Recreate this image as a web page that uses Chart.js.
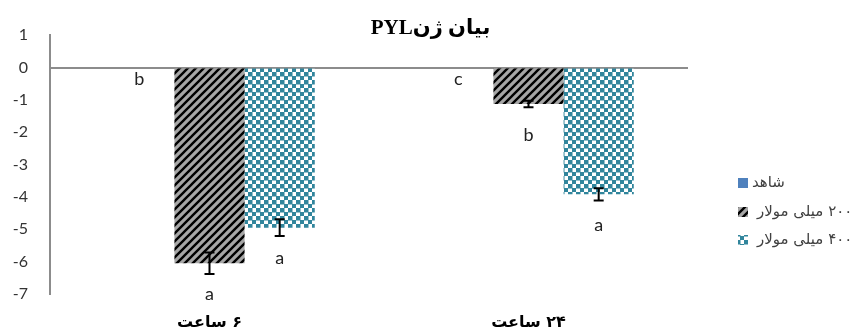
<!DOCTYPE html>
<html>
<head>
<meta charset="utf-8">
<script src="https://cdn.jsdelivr.net/npm/chart.js@4"></script>
<style>
  body { margin: 0; background: #fff; }
  #wrap { width: 861px; height: 336px; }
</style>
</head>
<body>
<div id="wrap"><canvas id="c" width="861" height="336"></canvas></div>
<script>
// data
const categories = ['\u202B۶ ساعت\u202C', '\u202B۲۴ ساعت\u202C'];
const seriesNames = ['شاهد', '۲۰۰ میلی مولار', '۴۰۰ میلی مولار'];
const control = [0, 0];
const mm200 = [-6.05, -1.13];
const mm400 = [-4.95, -3.92];
const errControl = [0, 0];
const err200 = [0.33, 0.1];
const err400 = [0.26, 0.19];
const lettersControl = ['b', 'c'];
const letters200 = ['a', 'b'];
const letters400 = ['a', 'a'];

function makePattern(draw) {
  const t = document.createElement('canvas');
  t.width = 8; t.height = 8;
  draw(t.getContext('2d'));
  return document.getElementById('c').getContext('2d').createPattern(t, 'repeat');
}

const hatch = makePattern(g => {
  g.fillStyle = '#a6a6a6';
  g.fillRect(0, 0, 8, 8);
  g.strokeStyle = '#000';
  g.lineWidth = 2.4;
  g.beginPath();
  g.moveTo(-1, 9); g.lineTo(9, -1);
  g.moveTo(-5, 5); g.lineTo(5, -5);
  g.moveTo(3, 13); g.lineTo(13, 3);
  g.stroke();
});

const checker = makePattern(g => {
  g.fillStyle = '#fff';
  g.fillRect(0, 0, 8, 8);
  g.fillStyle = '#31859c';
  g.fillRect(0, 0, 4.5, 4.5);
  g.fillRect(4, 4, 4.5, 4.5);
});

// error bars + significance letters
const annotate = {
  id: 'annotate',
  afterDatasetsDraw(chart) {
    const ctx = chart.ctx;
    const y = chart.scales.y;
    ctx.save();
    chart.data.datasets.forEach((ds, i) => {
      const meta = chart.getDatasetMeta(i);
      meta.data.forEach((bar, j) => {
        const v = ds.data[j];
        const e = ds.errors[j];
        if (e) {
          const top = y.getPixelForValue(v + e);
          const bot = y.getPixelForValue(v - e);
          ctx.strokeStyle = '#000';
          ctx.lineWidth = 2;
          ctx.beginPath();
          ctx.moveTo(bar.x, top); ctx.lineTo(bar.x, bot);
          ctx.moveTo(bar.x - 5, top); ctx.lineTo(bar.x + 5, top);
          ctx.moveTo(bar.x - 5, bot); ctx.lineTo(bar.x + 5, bot);
          ctx.stroke();
        }
        ctx.fillStyle = '#222';
        ctx.font = '18px Lato, "DejaVu Sans"';
        ctx.textAlign = 'center';
        ctx.textBaseline = 'middle';
        const ly = y.getPixelForValue(v) + (v === 0 ? 12 : 31);
        ctx.fillText(ds.letters[j], bar.x, ly);
      });
    });
    ctx.restore();
  }
};

// legend sits partly outside the canvas like the original, so it is drawn by hand
const sideLegend = {
  id: 'sideLegend',
  afterDraw(chart) {
    const ctx = chart.ctx;
    const rows = [183, 212, 240];
    ctx.save();
    chart.data.datasets.forEach((ds, i) => {
      ctx.fillStyle = ds.backgroundColor;
      ctx.fillRect(738, rows[i] - 5, 10, 10);
      ctx.fillStyle = '#404040';
      ctx.font = '15px "DejaVu Sans"';
      ctx.direction = 'rtl';
      ctx.textAlign = 'left';
      ctx.textBaseline = 'middle';
      ctx.fillText(ds.label, i === 0 ? 752 : 757, rows[i]);
    });
    ctx.restore();
  }
};

new Chart(document.getElementById('c'), {
  type: 'bar',
  data: {
    labels: categories,
    datasets: [
      { label: seriesNames[0], data: control, errors: errControl, letters: lettersControl, backgroundColor: '#4f81bd' },
      { label: seriesNames[1], data: mm200, errors: err200, letters: letters200, backgroundColor: hatch },
      { label: seriesNames[2], data: mm400, errors: err400, letters: letters400, backgroundColor: checker }
    ]
  },
  options: {
    responsive: false,
    animation: false,
    layout: { padding: 0 },
    datasets: { bar: { categoryPercentage: 0.66, barPercentage: 1 } },
    plugins: {
      legend: { display: false },
      tooltip: { enabled: false },
      title: {
        display: true,
        text: '\u202Bبیان ژنPYL\u202C',
        color: '#000',
        font: { family: '"Liberation Serif", "DejaVu Sans"', size: 21, weight: 'bold' },
        padding: { top: 16, bottom: -6 }
      }
    },
    scales: {
      x: {
        grid: { display: false, drawTicks: false },
        border: { display: false },
        afterFit: s => { s.height = 42; },
        ticks: {
          color: '#000',
          padding: 19,
          font: { family: '"DejaVu Sans"', size: 16, weight: 'bold' }
        }
      },
      y: {
        min: -7,
        max: 1,
        afterFit: s => { s.width = 50; },
        ticks: {
          stepSize: 1,
          color: '#333',
          padding: 22,
          font: { family: 'Lato, "DejaVu Sans"', size: 16 }
        },
        grid: {
          drawTicks: false,
          lineWidth: 2,
          color: c => (c.tick && c.tick.value === 0 ? '#8c8c8c' : 'rgba(0,0,0,0)')
        },
        border: { display: true, color: '#8c8c8c', width: 2 }
      },
      // empty right-hand axis that reserves the room the legend uses
      side: {
        type: 'linear',
        position: 'right',
        grid: { display: false },
        border: { display: false },
        ticks: { display: false },
        afterFit: s => { s.width = 173; }
      }
    }
  },
  plugins: [annotate, sideLegend]
});
</script>
</body>
</html>
